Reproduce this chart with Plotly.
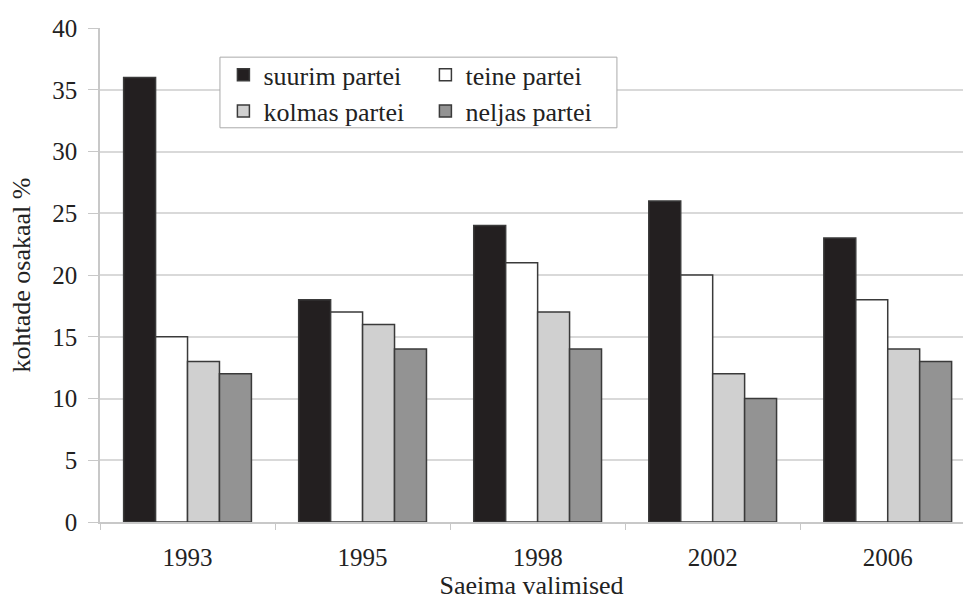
import plotly.graph_objects as go

years = ["1993", "1995", "1998", "2002", "2006"]
series_names = ["suurim partei", "teine partei", "kolmas partei", "neljas partei"]
suurim = [36, 18, 24, 26, 23]
teine = [15, 17, 21, 20, 18]
kolmas = [13, 16, 17, 12, 14]
neljas = [12, 14, 14, 10, 13]
y_ticks = [0, 5, 10, 15, 20, 25, 30, 35, 40]

colors = ["#231f20", "#ffffff", "#d0d0d0", "#939393"]
legends = ["legend", "legend", "legend2", "legend2"]
values = [suurim, teine, kolmas, neljas]

font_family = "Liberation Serif, Times New Roman, serif"
txt = "#222"

fig = go.Figure()
for name, vals, col, lg in zip(series_names, values, colors, legends):
    fig.add_trace(go.Bar(
        x=years, y=vals, name=name, legend=lg,
        marker=dict(color=col, line=dict(color="#3a3a3a", width=1.5)),
    ))

leg_common = dict(orientation="h", xanchor="left", yanchor="middle",
                  entrywidth=157, entrywidthmode="pixels", bgcolor="rgba(0,0,0,0)",
                  font=dict(family=font_family, size=26, color=txt),
                  itemclick=False, tracegroupgap=0)

fig.update_layout(
    width=963, height=601,
    margin=dict(l=100, r=0, t=28, b=79),
    paper_bgcolor="white", plot_bgcolor="white",
    barmode="group", bargap=0.27, bargroupgap=0,
    font=dict(family=font_family, size=24, color=txt),
    showlegend=True,
    legend=dict(x=0.143, y=0.905, **leg_common),
    legend2=dict(x=0.143, y=0.832, **leg_common),
    shapes=[dict(type="rect", xref="paper", yref="paper",
                 x0=0.139, x1=0.599, y0=0.798, y1=0.941,
                 line=dict(color="#aaaaaa", width=1), fillcolor="white", layer="above")],
)
fig.update_xaxes(
    range=[-0.5, 4.43], automargin=False,
    showline=True, linecolor="#c8c8c8", linewidth=1.5,
    ticks="outside", tickson="boundaries", ticklen=6, tickcolor="#c8c8c8",
    ticklabelstandoff=12,
    tickfont=dict(family=font_family, size=25, color=txt),
    title=dict(text="Saeima valimised", font=dict(family=font_family, size=26, color=txt), standoff=0),
    showgrid=False,
)
fig.update_yaxes(
    range=[0, 40], tickvals=y_ticks, automargin=False,
    showline=True, linecolor="#c8c8c8", linewidth=1.5,
    ticks="outside", ticklen=10, tickcolor="#c8c8c8", ticklabelstandoff=6,
    showgrid=True, gridcolor="#d9d9d9", gridwidth=1.5,
    tickfont=dict(family=font_family, size=25, color=txt),
    title=dict(text="kohtade osakaal %", font=dict(family=font_family, size=26, color=txt), standoff=14),
    zeroline=False,
)

fig.write_html("out.html", config={"displayModeBar": False},
               post_script="document.body.style.margin='0';document.body.style.overflow='hidden';")
